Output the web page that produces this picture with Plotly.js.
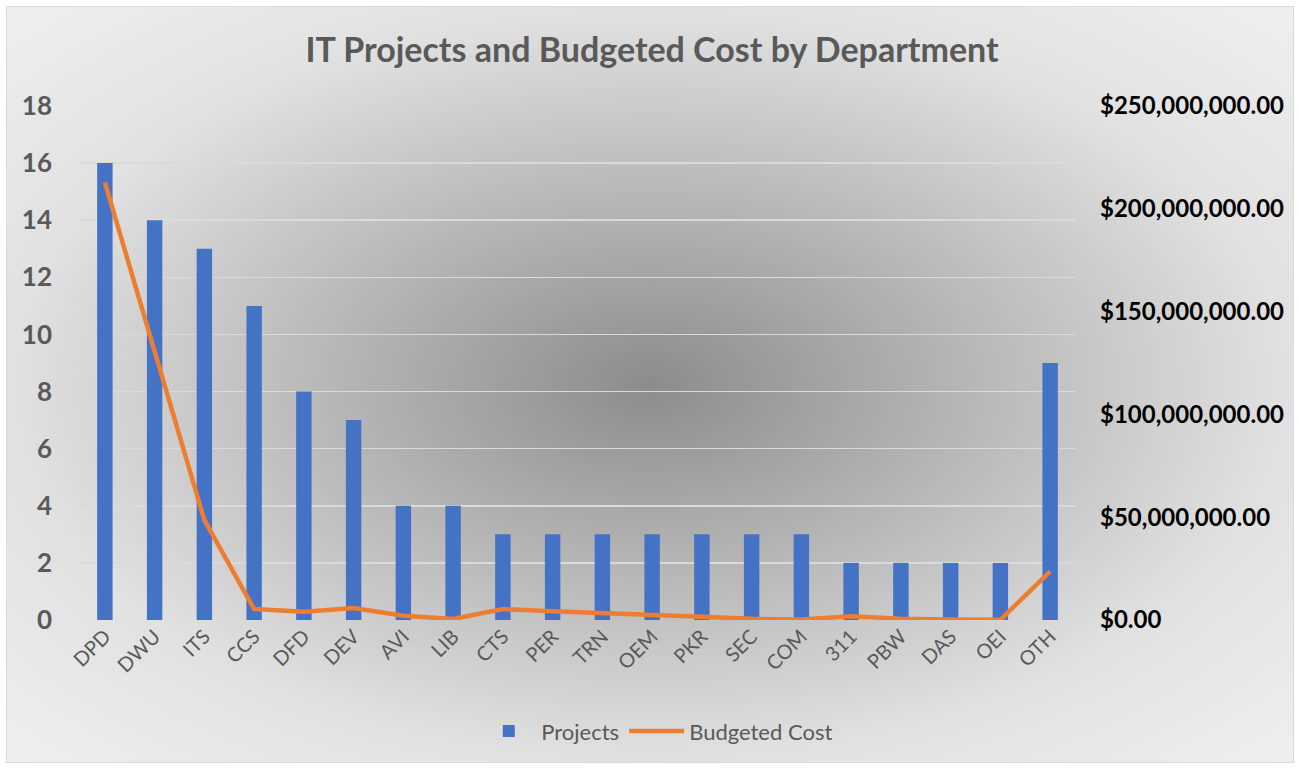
<!DOCTYPE html>
<html>
<head>
<meta charset="utf-8">
<script src="https://cdn.plot.ly/plotly-3.0.1.min.js"></script>
<style>
  html, body { margin: 0; padding: 0; background: #ffffff; width: 1299px; height: 769px; overflow: hidden; }
  #bg { position: absolute; left: 6px; top: 6px; width: 1286px; height: 755px; border: 1px solid #d9d9d9;
        background: radial-gradient(ellipse farthest-corner at 50% 50%, #8c8c8c 0%, #e1e1e1 70%, #efefef 100%); }
  #chart { position: absolute; left: 0; top: 0; width: 1299px; height: 769px; }
</style>
</head>
<body>
<div id="bg"></div>
<div id="chart"></div>
<script>
const departments = ["DPD","DWU","ITS","CCS","DFD","DEV","AVI","LIB","CTS","PER","TRN","OEM","PKR","SEC","COM","311","PBW","DAS","OEI","OTH"];
const projects = [16,14,13,11,8,7,4,4,3,3,3,3,3,3,3,2,2,2,2,9];
const budgetedCost = [212800000,131000000,48600000,5300000,4000000,5800000,2100000,500000,5300000,4200000,3500000,2300000,1600000,600000,300000,1800000,600000,200000,100000,23600000];

const FONT = "Lato, 'Open Sans', sans-serif";

const traces = [
  {
    type: 'bar', name: 'Projects', x: departments, y: projects,
    marker: { color: '#4472C4' }, yaxis: 'y'
  },
  {
    type: 'scatter', mode: 'lines', name: 'Budgeted Cost', x: departments, y: budgetedCost,
    line: { color: '#ED7D31', width: 4.5 }, yaxis: 'y2'
  }
];

const layout = {
  width: 1299, height: 769,
  paper_bgcolor: 'rgba(0,0,0,0)', plot_bgcolor: 'rgba(0,0,0,0)',
  margin: { l: 80, r: 224, t: 106, b: 149 },
  font: { family: FONT, color: '#595959' },
  title: {
    text: 'IT Projects and Budgeted Cost by Department',
    font: { family: FONT, size: 34, color: '#595959', weight: 'bold' },
    xref: 'container', x: 0.502, xanchor: 'center',
    yref: 'container', y: 0.935, yanchor: 'middle'
  },
  bargap: 0.69,
  xaxis: {
    type: 'category', tickangle: -45,
    tickfont: { family: FONT, size: 20, color: '#595959' },
    showgrid: false, showline: false, zeroline: false, ticks: ''
  },
  yaxis: {
    range: [0, 18], dtick: 2, tick0: 0,
    tickfont: { family: FONT, size: 26, color: '#595959', weight: 'bold' },
    showgrid: true, gridcolor: '#dadada', gridwidth: 1.5,
    zeroline: false, showline: false, ticks: '', ticklabelstandoff: 27
  },
  yaxis2: {
    overlaying: 'y', side: 'right',
    range: [0, 250000000], dtick: 50000000, tick0: 0,
    tickformat: '$,.2f',
    tickfont: { family: FONT, size: 24, color: '#000000', weight: 'bold' },
    showgrid: false, zeroline: false, showline: false, ticks: '', ticklabelstandoff: 24
  },
  showlegend: true,
  legend: {
    orientation: 'h',
    xref: 'container', x: 0.506, xanchor: 'center',
    yref: 'container', y: 0.049, yanchor: 'middle',
    font: { family: FONT, size: 22, color: '#595959' },
    bgcolor: 'rgba(0,0,0,0)', itemwidth: 55
  }
};

Plotly.newPlot('chart', traces, layout, { displayModeBar: false, staticPlot: true });
</script>
</body>
</html>
